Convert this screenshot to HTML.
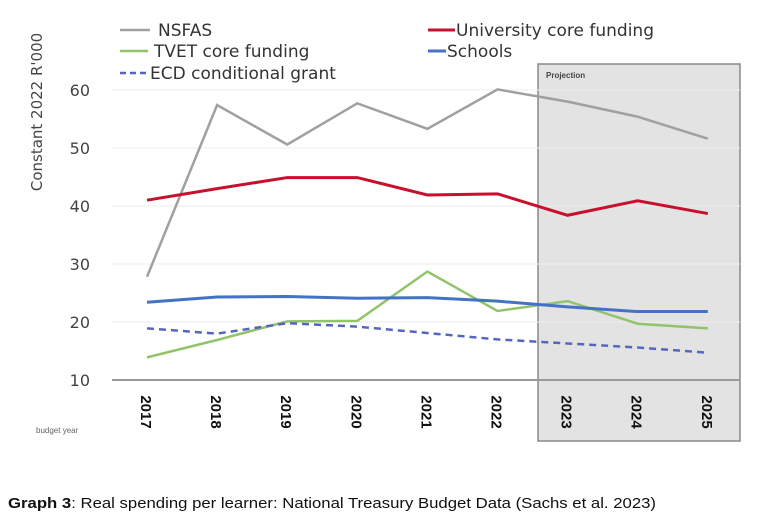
<!DOCTYPE html>
<html><head><meta charset="utf-8"><style>
body{margin:0;background:#fff;width:763px;height:521px;overflow:hidden;font-family:"Liberation Sans",sans-serif;}
</style></head><body>
<svg id="chart" width="763" height="521" xmlns="http://www.w3.org/2000/svg" font-family="Liberation Sans, DejaVu Sans, sans-serif">
<rect x="538" y="64" width="202" height="377" fill="#e3e3e3" stroke="#888" stroke-width="1.5"/>
<text x="546" y="78" font-size="8" font-weight="bold" fill="#444">Projection</text>
<g id="grid"></g><g id="series"></g><g id="ticks"></g>
<text transform="translate(42,112) rotate(-90)" text-anchor="middle" font-size="15" fill="#444" font-family="DejaVu Sans, sans-serif">Constant 2022 R'000</text>
<text x="36" y="433" font-size="8" fill="#666">budget year</text>
<g font-size="17" fill="#333" font-family="DejaVu Sans, sans-serif">
<line x1="120" y1="30" x2="150" y2="30" stroke="#a0a0a0" stroke-width="2.5"/><text x="158" y="36">NSFAS</text>
<line x1="428" y1="30" x2="455" y2="30" stroke="#c8102e" stroke-width="3"/><text x="456" y="36">University core funding</text>
<line x1="120" y1="51" x2="148" y2="51" stroke="#92c36b" stroke-width="2.5"/><text x="154" y="57">TVET core funding</text>
<line x1="428" y1="51" x2="446" y2="51" stroke="#4472c4" stroke-width="3"/><text x="447" y="57">Schools</text>
<line x1="120" y1="73" x2="148" y2="73" stroke="#5566c0" stroke-width="2.5" stroke-dasharray="6,4"/><text x="150" y="79">ECD conditional grant</text>
</g>
<text x="8" y="508" font-size="14.5" fill="#111" textLength="648" lengthAdjust="spacingAndGlyphs"><tspan font-weight="bold">Graph 3</tspan>: Real spending per learner: National Treasury Budget Data (Sachs et al. 2023)</text>
</svg>
<script>
const years=["2017","2018","2019","2020","2021","2022","2023","2024","2025"];
const yTicks=[10,20,30,40,50,60];
const nsfas=[27.8,57.4,50.6,57.7,53.3,60.1,58,55.4,51.6];
const university=[41,43,44.9,44.9,41.9,42.1,38.4,40.9,38.7];
const tvet=[13.9,16.9,20.1,20.2,28.7,21.9,23.6,19.7,18.9];
const schools=[23.4,24.3,24.4,24.1,24.2,23.6,22.6,21.8,21.8];
const ecd=[18.9,18.0,19.8,19.2,18.1,17,16.3,15.6,14.7];
const NS="http://www.w3.org/2000/svg";
function xs(i){return 147+i*70.1;}
function ys(v){return 380-(v-10)*5.8;}
const grid=document.getElementById('grid'),ticks=document.getElementById('ticks'),ser=document.getElementById('series');
yTicks.forEach(t=>{
 const l=document.createElementNS(NS,'line');
 
 
 l.setAttribute('x1',112);l.setAttribute('x2',740);l.setAttribute('y1',ys(t));l.setAttribute('y2',ys(t));
 l.setAttribute('stroke',t===10?'#999':'#eee');l.setAttribute('stroke-width',t===10?2:1);
 grid.appendChild(l);
 const tx=document.createElementNS(NS,'text');
 
 
 tx.setAttribute('x',90);tx.setAttribute('y',ys(t)+6);tx.setAttribute('text-anchor','end');
 tx.setAttribute('font-size','16');tx.setAttribute('fill','#444');tx.setAttribute('font-family','DejaVu Sans, sans-serif');
 tx.textContent=t;ticks.appendChild(tx);
});
years.forEach((y,i)=>{
 const tx=document.createElementNS(NS,'text');
 
 
 const cx=xs(i)-1,cy=412;
 tx.setAttribute('transform','translate('+cx+','+cy+') rotate(90)');
 tx.setAttribute('text-anchor','middle');tx.setAttribute('dy','5');
 tx.setAttribute('font-size','15');tx.setAttribute('font-weight','bold');tx.setAttribute('fill','#111');
 tx.textContent=y;ticks.appendChild(tx);
});
function line(data,name,color,w,dash){
 const p=document.createElementNS(NS,'polyline');
 
 
 p.setAttribute('points',data.map((v,i)=>xs(i)+','+ys(v)).join(' '));
 p.setAttribute('fill','none');p.setAttribute('stroke',color);p.setAttribute('stroke-width',w);
 if(dash)p.setAttribute('stroke-dasharray',dash);
 ser.appendChild(p);
}
line(nsfas,'nsfas-line','#a0a0a0',2.5);
line(university,'university-line','#c8102e',3);
line(tvet,'tvet-line','#92c36b',2.5);
line(schools,'schools-line','#4472c4',3);
line(ecd,'ecd-line','#5566c0',2.5,'7,5');
</script>
</body></html>
